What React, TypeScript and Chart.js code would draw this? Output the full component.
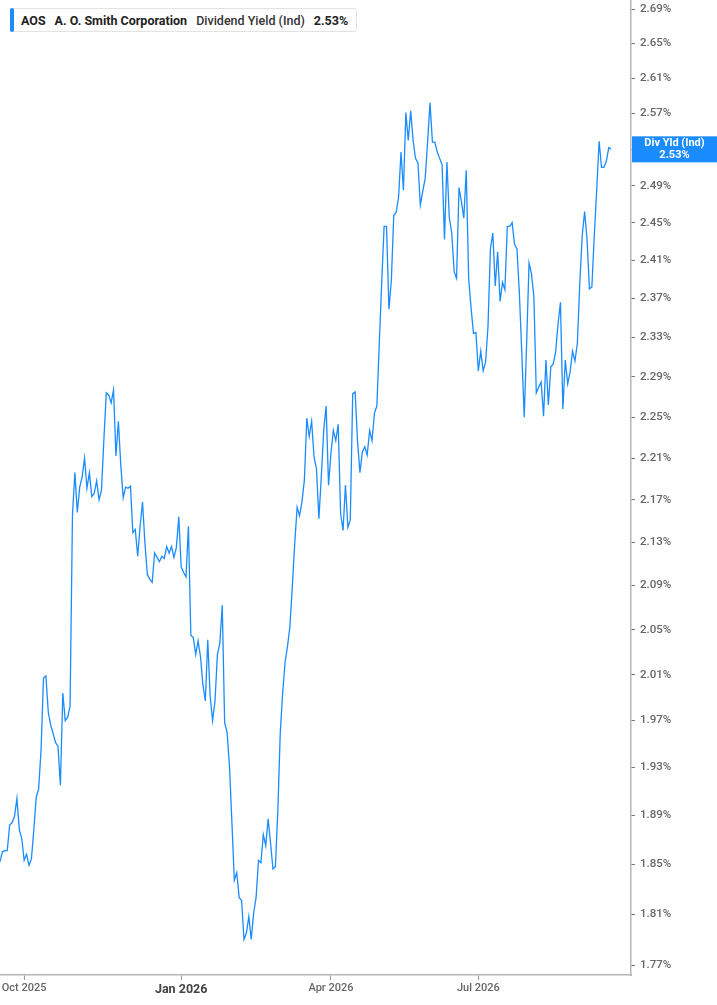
import React, { useEffect, useRef } from 'react';
import { Chart, registerables } from 'chart.js';

Chart.register(...registerables);

// daily dividend yield (%), oldest first
const divYield: number[] = [
  1.852, 1.860, 1.861, 1.861, 1.882, 1.884, 1.889, 1.904, 1.878, 1.871,
  1.853, 1.858, 1.849, 1.854, 1.878, 1.905, 1.912, 1.945, 2.007, 2.009,
  1.977, 1.966, 1.959, 1.951, 1.948, 1.915, 1.994, 1.970, 1.973, 1.982,
  2.156, 2.196, 2.158, 2.182, 2.192, 2.210, 2.181, 2.196, 2.173, 2.176,
  2.188, 2.170,
  2.179, 2.228, 2.274, 2.272, 2.264, 2.277, 2.212, 2.246, 2.203, 2.172,
  2.182, 2.181, 2.183, 2.139, 2.142, 2.117, 2.145, 2.168, 2.129, 2.100,
  2.096, 2.093, 2.120, 2.116, 2.112, 2.117, 2.115, 2.126, 2.120, 2.126,
  2.116, 2.125, 2.154, 2.107, 2.102, 2.098, 2.145, 2.045,
  2.043, 2.028, 2.040, 2.026, 2.001, 1.987, 2.041, 1.991, 1.970, 1.987,
  2.028, 2.038, 2.072, 1.968, 1.960, 1.931, 1.884, 1.837, 1.843, 1.823,
  1.821, 1.790, 1.795, 1.808, 1.790, 1.811, 1.823, 1.853, 1.851, 1.874,
  1.865, 1.887, 1.867, 1.846, 1.848, 1.893, 1.959, 1.994, 2.021,
  2.035, 2.053, 2.089, 2.129, 2.163, 2.155, 2.168, 2.189, 2.249, 2.231,
  2.246, 2.211, 2.200, 2.152, 2.192, 2.237, 2.261, 2.184, 2.215, 2.237,
  2.227, 2.243, 2.157, 2.141, 2.184, 2.144, 2.151, 2.273, 2.275, 2.226,
  2.196, 2.216, 2.221, 2.213, 2.237, 2.227, 2.254, 2.261, 2.324, 2.386,
  2.446, 2.446, 2.359, 2.389, 2.458, 2.461, 2.478, 2.527, 2.485, 2.571,
  2.540, 2.573, 2.540, 2.520, 2.515, 2.469, 2.484, 2.498, 2.538, 2.582,
  2.538, 2.538, 2.527, 2.520, 2.513, 2.432, 2.516, 2.455, 2.439, 2.398,
  2.391, 2.488, 2.473, 2.455, 2.507, 2.391, 2.360,
  2.334, 2.335, 2.296, 2.316, 2.296, 2.305, 2.341, 2.422, 2.439, 2.383,
  2.419, 2.367, 2.387, 2.379, 2.446, 2.446, 2.450, 2.427, 2.422, 2.375,
  2.314, 2.250, 2.324, 2.407, 2.396, 2.372, 2.274, 2.280, 2.285, 2.251,
  2.307, 2.262, 2.300, 2.303, 2.315, 2.344, 2.366,
  2.258, 2.307, 2.283, 2.295, 2.316, 2.306, 2.324, 2.386, 2.436, 2.462,
  2.432, 2.380, 2.382, 2.436, 2.485, 2.539, 2.510, 2.510, 2.517, 2.532,
  2.530,
];

// trading-day index where each month label sits
const monthTickIdx: number[] = [10, 75, 137, 198];
const monthLabels: string[] = ['Oct 2025', 'Jan 2026', 'Apr 2026', 'Jul 2026'];

const yTickValues: number[] = [
  1.77, 1.81, 1.85, 1.89, 1.93, 1.97, 2.01, 2.05, 2.09, 2.13, 2.17, 2.21,
  2.25, 2.29, 2.33, 2.37, 2.41, 2.45, 2.49, 2.53, 2.57, 2.61, 2.65, 2.69,
];

const BLUE = '#1a8cff';
const FONT = 'Roboto, "Noto Sans", sans-serif';

const lastTagPlugin = {
  id: 'lastTag',
  afterDraw(chart: any) {
    const { ctx, chartArea, scales } = chart;
    const last = divYield[divYield.length - 1];
    const y = scales.y.getPixelForValue(last);
    const left = chartArea.right + 1;
    const right = chart.width;
    ctx.save();
    ctx.fillStyle = BLUE;
    ctx.fillRect(left, y - 13, right - left, 26);
    ctx.fillStyle = '#fff';
    ctx.font = `bold 11px ${FONT}`;
    ctx.textAlign = 'center';
    ctx.textBaseline = 'middle';
    const cx = (left + right) / 2;
    ctx.fillText('Div Yld (Ind)', cx, y - 6);
    ctx.fillText(last.toFixed(2) + '%', cx, y + 6);
    ctx.restore();
  },
};

const App: React.FC = () => {
  const canvasRef = useRef<HTMLCanvasElement>(null);

  useEffect(() => {
    if (!canvasRef.current) return;
    const points = divYield.map((v, i) => ({ x: i, y: v }));
    const chart = new Chart(canvasRef.current, {
      type: 'line',
      data: {
        datasets: [{
          data: points,
          borderColor: BLUE,
          borderWidth: 1.3,
          pointRadius: 0,
          tension: 0,
        }],
      },
      options: {
        animation: false,
        responsive: true,
        maintainAspectRatio: false,
        layout: { padding: 0 },
        plugins: {
          legend: { display: false },
          tooltip: { enabled: false },
        },
        scales: {
          x: {
            type: 'linear',
            min: 0,
            max: 261.2,
            afterBuildTicks: (scale: any) => {
              scale.ticks = monthTickIdx.map((v) => ({ value: v }));
            },
            afterFit: (scale: any) => {
              scale.height = 30;
              scale.paddingLeft = 0;
              scale.paddingRight = 0;
            },
            grid: { drawOnChartArea: false, tickLength: 5, tickColor: '#999' },
            border: { color: '#b5b5b5', width: 1.5 },
            ticks: {
              autoSkip: false,
              maxRotation: 0,
              padding: 2,
              callback: (v: any) => monthLabels[monthTickIdx.indexOf(Number(v))] ?? '',
              color: (c: any) => (c.tick && c.tick.label === 'Jan 2026' ? '#444' : '#666'),
              font: (c: any) => (c.tick && c.tick.label === 'Jan 2026'
                ? { family: FONT, size: 12.5, weight: 'bold' }
                : { family: FONT, size: 11, weight: '500' }),
            },
          },
          y: {
            type: 'logarithmic',
            position: 'right',
            min: 1.7623,
            max: 2.701,
            afterBuildTicks: (scale: any) => {
              scale.ticks = yTickValues.map((v) => ({ value: v }));
            },
            afterFit: (scale: any) => {
              scale.width = 86;
              scale.paddingTop = 0;
              scale.paddingBottom = 0;
            },
            grid: { drawOnChartArea: false, tickLength: 4, tickColor: '#777' },
            border: { color: '#b5b5b5', width: 1.5 },
            ticks: {
              autoSkip: false,
              padding: 5,
              color: '#666',
              font: { family: FONT, size: 11.5, weight: '500' },
              callback: (v: any) => Number(v).toFixed(2) + '%',
            },
          },
        },
      },
      plugins: [lastTagPlugin],
    });
    return () => chart.destroy();
  }, []);

  return (
    <div style={{ position: 'fixed', left: 0, top: 0, width: 717, height: 1005, background: '#fff' }}>
      <canvas ref={canvasRef}></canvas>
      <div
        style={{
          position: 'absolute', left: 10, top: 8, height: 24, padding: '0 8px 0 10px',
          display: 'flex', alignItems: 'center', gap: 9, background: '#fff',
          border: '1px solid #e3e3e3', borderRadius: 3, fontFamily: FONT, fontSize: 12.5,
          color: '#222', whiteSpace: 'nowrap', boxSizing: 'border-box',
        }}
      >
        <div style={{ position: 'absolute', left: -1, top: -1, bottom: -1, width: 4, background: BLUE, borderRadius: 2 }} />
        <span style={{ fontWeight: 700 }}>AOS</span>
        <span style={{ fontWeight: 700 }}>A. O. Smith Corporation</span>
        <span style={{ fontWeight: 500, color: '#333' }}>Dividend Yield (Ind)</span>
        <span style={{ fontWeight: 700 }}>2.53%</span>
      </div>
    </div>
  );
};

export default App;
